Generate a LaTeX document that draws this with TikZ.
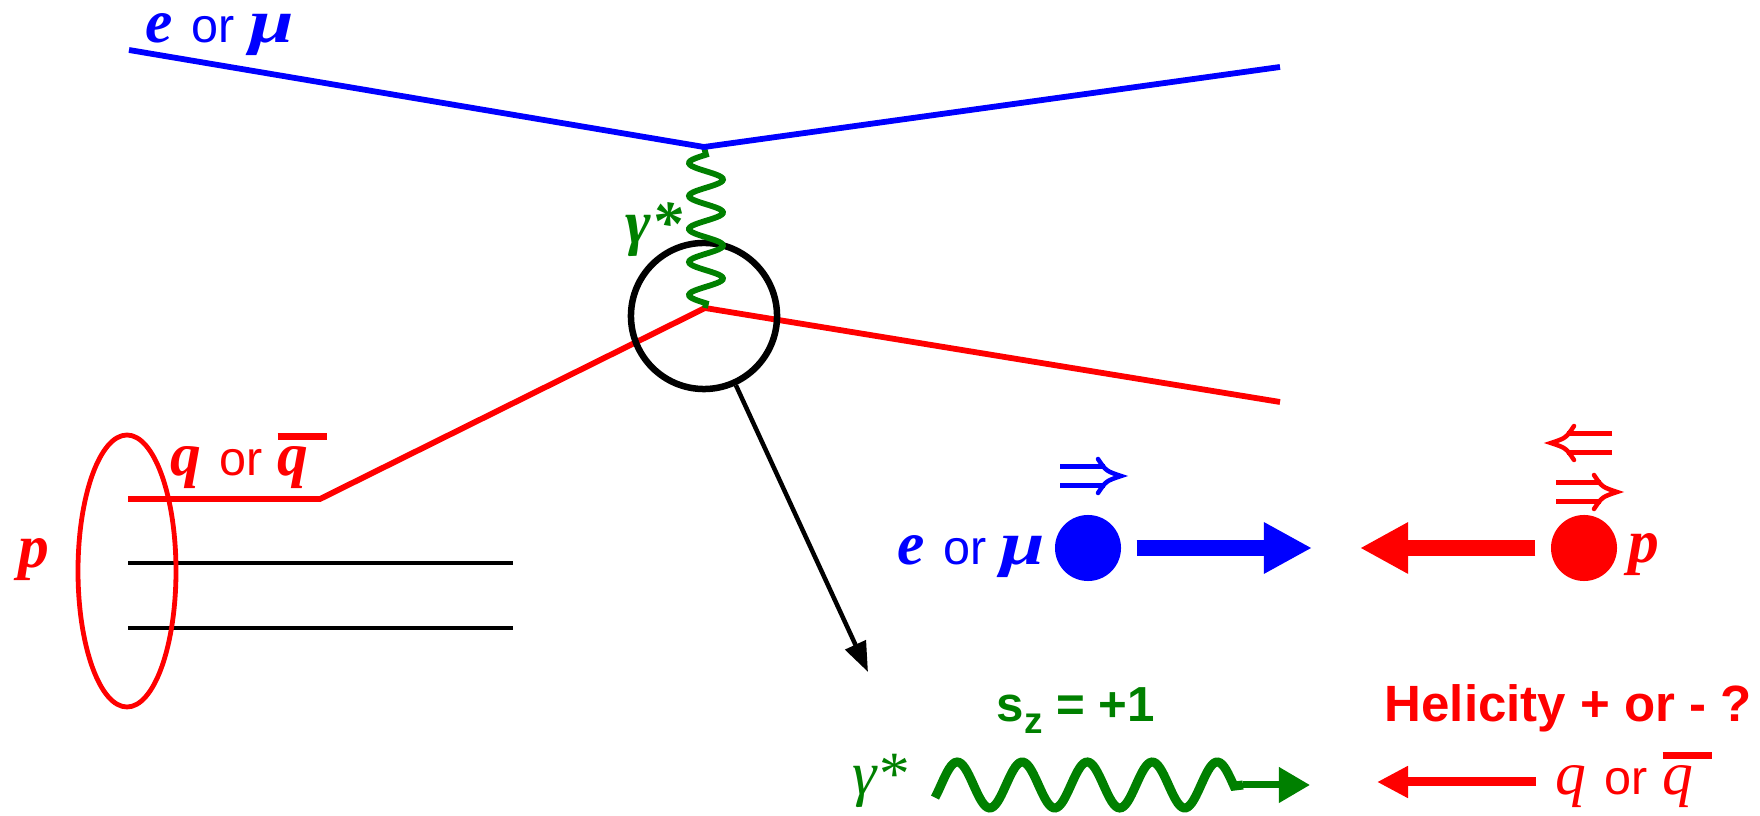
\documentclass[tikz,border=0pt]{standalone}
\usepackage{graphicx}
\usepackage{fontspec}
\setmainfont{Liberation Serif}
\setsansfont{Liberation Sans}
\usetikzlibrary{arrows.meta}
\definecolor{PhotonGreen}{HTML}{008000}
\newcommand{\sym}[1]{{\fontsize{17.5}{20}\selectfont\bfseries\itshape #1}}
\newcommand{\symr}[1]{{\fontsize{17.5}{20}\selectfont\itshape #1}}
\newcommand{\muw}{\scalebox{1.3}[1]{μ}}
\newcommand{\orw}{{\sffamily\fontsize{13.8}{16}\selectfont\hspace{0.38em}or\hspace{0.3em}}}
\newcommand{\barq}[1]{\rlap{\rule[0.58em]{0.8em}{0.12em}}#1}

\begin{document}
\begin{tikzpicture}[x=0.01cm,y=-0.01cm,
  lepline/.style={blue,line width=0.058cm},
  qline/.style={red,line width=0.058cm},
  seaq/.style={black,line width=0.035cm},
  photon/.style={PhotonGreen,line width=0.058cm},
  lbl/.style={inner sep=0pt},
  spinarrow/.pic={
    \draw[line width=0.045cm] (0,-9.5) -- (45,-9.5) (0,9.5) -- (45,9.5);
    \draw[line width=0.045cm,line cap=round] (38,-17) .. controls (46,-5) .. (61,0) .. controls (46,5) .. (38,17);
  },
  ball/.style={circle,minimum size=0.66cm,inner sep=0pt},
  fat/.style={line width=0.16cm,-{Triangle[length=0.48cm,width=0.48cm]},shorten <=0.15cm}
]
  \useasboundingbox (0,0) rectangle (1760,816);
  \coordinate (ein) at (129,50);
  \coordinate (vtop) at (704,147);
  \coordinate (eout) at (1280,67);
  \coordinate (qin) at (128,499);
  \coordinate (qbend) at (320,499);
  \coordinate (vbot) at (705,308);
  \coordinate (qout) at (1280,402);
  \coordinate (s1a) at (128,563);
  \coordinate (s1b) at (513,563);
  \coordinate (s2a) at (128,628);
  \coordinate (s2b) at (513,628);
  \coordinate (pcen) at (127,571);
  \coordinate (ztip) at (868,672);

  \draw[qline] (qin) -- (qbend) -- (vbot) -- (qout);
  \draw[seaq] (s1a) -- (s1b);
  \draw[seaq] (s2a) -- (s2b);
  \draw[red,line width=0.048cm] (pcen) ellipse [x radius=49,y radius=136];
  \node[draw,circle,line width=0.065cm,minimum size=1.46cm,inner sep=0pt] (zoomc) at (704,316) {};
  \draw[line width=0.045cm,-{Triangle[length=0.3cm,width=0.22cm]}] (zoomc) -- (ztip);
  \draw[photon] (vtop) -- plot[domain=154.75:303.25,samples=120] ({706-17*sin((\x-154.75)/33*360)},\x) -- (vbot);
  \draw[lepline] (ein) -- (vtop) -- (eout);

  \node[lbl,blue,anchor=base west] (etop) at (145,43) {\sym{e}\orw\sym{\muw}};
  \node[lbl,PhotonGreen,anchor=base east] (gtop) at (683,244) {\sym{γ*}};
  \node[lbl,red,anchor=base west] (qtop) at (170,476) {\sym{q}\orw\sym{\barq{q}}};
  \node[lbl,red,anchor=base west] (pleft) at (18,568) {\sym{p}};

  \node[ball,fill=blue] (edot) at (1088,548) {};
  \node[lbl,blue,anchor=base east] (emid) at (1046,565) {\sym{e}\orw\sym{\muw}};
  \node[ball,fill=red] (pdot) at (1584,548) {};
  \node[lbl,red,anchor=base west] (pright) at (1628,563) {\sym{p}};
  \pic[blue] (espin) at (1060,476) {spinarrow};
  \pic[red,xscale=-1] (pspina) at (1612,443) {spinarrow};
  \pic[red] (pspinb) at (1556,492) {spinarrow};
  \coordinate (etip) at (1312,548);
  \coordinate (ptip) at (1360,548);
  \draw[fat,blue] (edot) -- (etip);
  \draw[fat,red] (pdot) -- (ptip);

  \node[lbl,PhotonGreen,anchor=base] (sz) at (1076,722)
    {\sffamily\bfseries\fontsize{14}{16}\selectfont s\raisebox{-0.24em}{\fontsize{10.5}{12}\selectfont z} = +1};
  \node[lbl,red,anchor=base west] (heli) at (1384,722)
    {\sffamily\bfseries\fontsize{14.5}{16}\selectfont Helicity + or - ?};
  \node[lbl,PhotonGreen,anchor=base east] (gbot) at (908,795) {\symr{γ*}};
  \node[lbl,red,anchor=base west] (qbot) at (1555,795) {\symr{q}\orw\symr{\barq{q}}};
  \coordinate (gwend) at (1243,785);
  \coordinate (gtip) at (1310,785);
  \coordinate (qtip) at (1377,782);
  \draw[PhotonGreen,line width=0.09cm] plot[domain=935:1234,samples=150] (\x,{785-23*sin((\x-941)/65*360)}) -- (gwend);
  \draw[PhotonGreen,line width=0.07cm,-{Triangle[length=0.31cm,width=0.34cm]}] (gwend) -- (gtip);
  \draw[red,line width=0.09cm,-{Triangle[length=0.31cm,width=0.3cm]},shorten <=0.19cm] (qbot.west |- qtip) -- (qtip);
\end{tikzpicture}
\end{document}
